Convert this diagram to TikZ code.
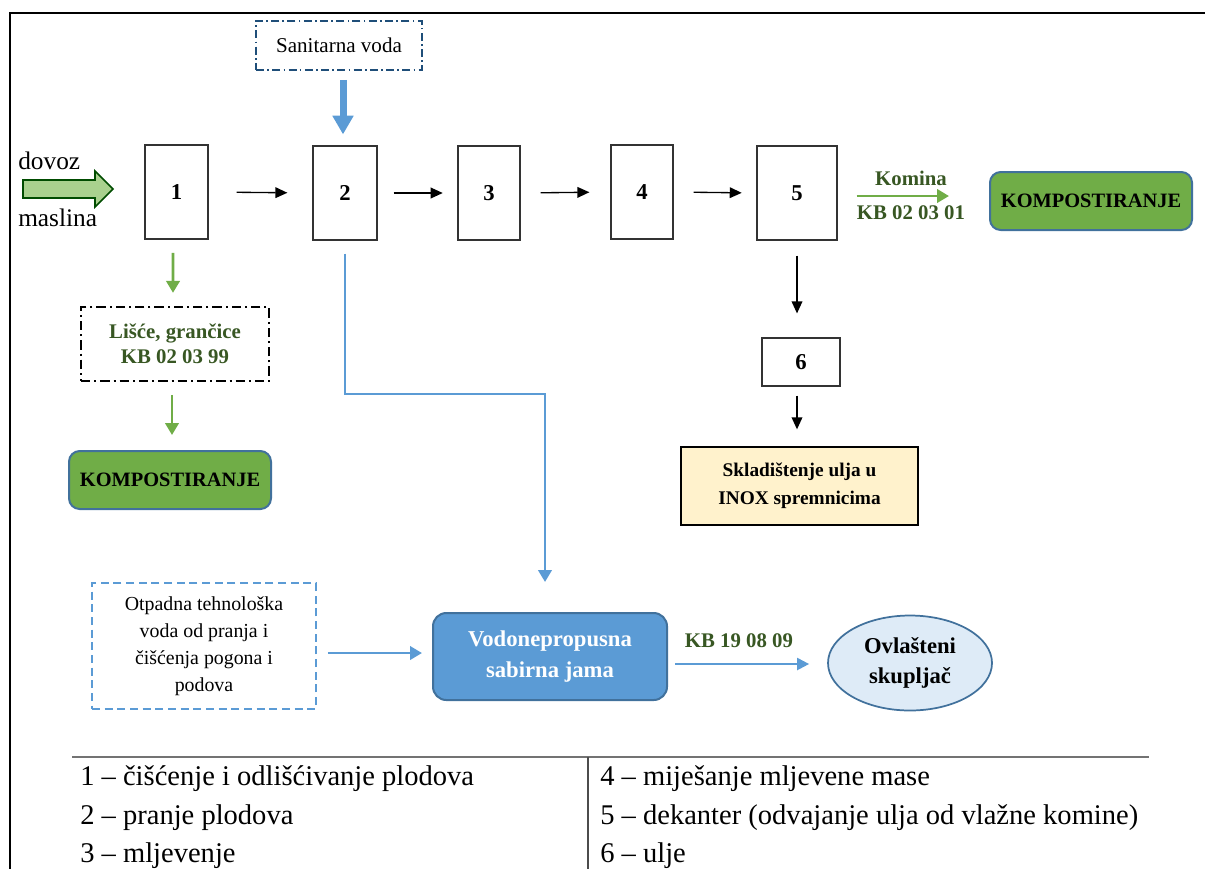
\documentclass[tikz,border=0pt]{standalone}
\usepackage{fontspec}
\setmainfont{LiberationSerif}[Extension=.ttf, UprightFont=*-Regular, BoldFont=*-Bold, ItalicFont=*-Italic, BoldItalicFont=*-BoldItalic]
\usetikzlibrary{arrows.meta,shapes.geometric}
\definecolor{mblue}{HTML}{5B9BD5}
\definecolor{bdblue}{HTML}{41719C}
\definecolor{dkblue}{HTML}{1F4E79}
\definecolor{mgreen}{HTML}{70AD47}
\definecolor{lgreen}{HTML}{A9D18E}
\definecolor{dgreen}{HTML}{385723}
\definecolor{lblue}{HTML}{DEEBF7}
\definecolor{cream}{HTML}{FFF2CC}
\tikzset{
  procbox/.style={draw=black!80, line width=0.9pt, minimum width=#1, minimum height=70.5pt, inner sep=0pt, font=\fontsize{17}{19}\selectfont\bfseries},
  blk/.style={draw=black, line width=1pt, -{Triangle[length=9pt,width=8pt]}},
  grn/.style={draw=mgreen, line width=2.2pt, -{Triangle[length=9pt,width=10pt]}},
  blu/.style={draw=mblue, line width=2.2pt, -{Triangle[length=9pt,width=10pt]}},
  rbox/.style={rounded corners=8pt, line width=1.5pt, draw=bdblue, minimum width=151.5pt, minimum height=43.5pt, inner sep=0pt},
  gtext/.style={text=dgreen, font=\fontsize{15.6}{19}\selectfont\bfseries},
}
\begin{document}
\begin{tikzpicture}[x=0.75pt,y=-0.75pt]
\useasboundingbox (0,0) rectangle (1205,869);
% frame
\draw[line width=2pt] (1205,13) -- (10,13) -- (10,869);

% process boxes
\node[procbox=47.25pt] (b1) at (176.5,192) {1};
\node[procbox=48pt] (b2) at (345,193) {2};
\node[procbox=46.5pt] (b3) at (489,193) {3};
\node[procbox=46.5pt] (b4) at (642,192) {4};
\node[procbox=60pt] (b5) at (797,193) {5};
\node[draw=black!80, line width=0.9pt, minimum width=58.5pt, minimum height=36pt, inner sep=0pt, font=\fontsize{17}{19}\selectfont\bfseries] (b6) at (801,362) {6};

\draw[blk, shorten <=21pt, shorten >=18.75pt] (b1.east) -- (b2.west);
\draw[blk, shorten <=12pt, shorten >=11pt] (b2.east) -- (b3.west);
\draw[blk, shorten <=15pt, shorten >=15.75pt] (b3.east) -- (b4.west);
\draw[blk, shorten <=15pt, shorten >=11pt] (b4.east) -- (b5.west);

% input arrow
\draw[draw=black!70!green, line width=1.2pt, fill=lgreen] (23,180) -- (95,180) -- (95,171) -- (113,189) -- (95,207) -- (95,198) -- (23,198) -- cycle;
\node[anchor=west, inner sep=0pt, font=\fontsize{19}{22}\selectfont] (dovoz) at (18,161) {dovoz};
\node[anchor=west, inner sep=0pt, font=\fontsize{19}{22}\selectfont] (maslina) at (18,218) {maslina};

% sanitarna voda
\node[draw=dkblue, line width=1.2pt, dash pattern=on 6pt off 2.5pt on 1.2pt off 2.5pt, minimum width=124.5pt, minimum height=36.75pt, inner sep=0pt, font=\fontsize{15.8}{19}\selectfont] (san) at (339,45.5) {Sanitarna voda};
\draw[draw=mblue, line width=5.25pt, -{Triangle[length=14pt,width=15pt]}, shorten <=6.75pt, shorten >=8.25pt] (san.south -| b2.north) ++(-2,0) -- ([xshift=-1.5pt]b2.north);

% lisce
\node[draw=black, line width=1.2pt, dash pattern=on 7pt off 3pt on 1.5pt off 3pt, minimum width=141pt, minimum height=55.5pt, inner sep=0pt, gtext, align=center] (lis) at (175,344) {Lišće, grančice\\KB 02 03 99};
\draw[grn, shorten <=10pt, shorten >=10pt] ([xshift=-2.6pt]b1.south) -- ([xshift=-1.5pt]lis.north);
\node[rbox, fill=mgreen, font=\fontsize{15.3}{18}\selectfont\bfseries] (komp1) at (170,480) {KOMPOSTIRANJE};
\draw[grn, shorten <=9.75pt, shorten >=11.25pt] ([xshift=-2.25pt]lis.south) -- ([xshift=1.5pt]komp1.north);

% komina
\node[rbox, fill=mgreen, font=\fontsize{15.3}{18}\selectfont\bfseries] (komp2) at (1091,201) {KOMPOSTIRANJE};
\draw[draw=mgreen, line width=2.2pt, -{Triangle[length=9pt,width=10pt]}, shorten <=14.25pt, shorten >=30pt] (b5.east |- 0,196) -- (komp2.west |- 0,196);
\node[gtext] (komina) at (911,178) {Komina};
\node[gtext] (kb1) at (911,213) {KB 02 03 01};

% oil
\node[draw=black, line width=1pt, fill=cream, minimum width=177.75pt, minimum height=58.5pt, inner sep=0pt, align=center, font=\fontsize{14.5}{21}\selectfont\bfseries] (stor) at (799.5,486) {Skladištenje ulja u\\INOX spremnicima};
\draw[blk, shorten <=11.25pt, shorten >=18pt] (b5.south) -- (b5.south |- b6.north);
\draw[blk, shorten <=6.75pt, shorten >=12.75pt] (b5.south |- b6.south) -- (b5.south |- stor.north);

% water collection
\node[rounded corners=10pt, draw=bdblue, line width=1.5pt, fill=mblue, minimum width=175.5pt, minimum height=65.25pt, inner sep=0pt, align=center, text=white, font=\fontsize{17}{23}\selectfont\bfseries] (vodo) at (550,656.5) {Vodonepropusna\\sabirna jama};
\coordinate (c1) at (345,394);
\coordinate (c2) at (545,394);
\draw[blu, rounded corners=0pt, shorten <=9.75pt, shorten >=22.5pt] (b2.south) -- (c1) -- (c2) -- (c2 |- vodo.north);

\node[draw=mblue, line width=1.2pt, dash pattern=on 6pt off 3.5pt, minimum width=168pt, minimum height=94.5pt, inner sep=0pt, align=center, font=\fontsize{14.9}{20.25}\selectfont] (otp) at (204,646) {Otpadna tehnološka\\voda od pranja i\\čišćenja pogona i\\podova};
\draw[blu, shorten <=8.25pt, shorten >=7.5pt] (otp.east |- 0,653) -- (vodo.west |- 0,653);

\node[ellipse, draw=bdblue, line width=1.3pt, fill=lblue, minimum width=123pt, minimum height=71.25pt, inner sep=0pt, align=center, font=\fontsize{17}{22.5}\selectfont\bfseries] (skup) at (910,663) {Ovlašteni\\skupljač};
\draw[draw=mblue, line width=1.6pt, -{Triangle[length=9pt,width=9pt]}, shorten <=5.25pt, shorten >=13.5pt] (vodo.east |- 0,664) -- (skup.west |- 0,664);
\node[gtext] (kb3) at (739,641) {KB 19 08 09};

% legend
\coordinate (l1) at (72,757);
\coordinate (l2) at (1149,757);
\coordinate (d1) at (588,757);
\coordinate (d2) at (588,869);
\draw[draw=black!55, line width=1.2pt] (l1) -- (l2);
\draw[draw=black!70, line width=0.8pt] (d1) -- (d2);
\begin{scope}[every node/.style={anchor=base west, inner sep=0pt, font=\fontsize{21.4}{26}\selectfont}]
\node (t1) at (80,785) {1 – čišćenje i odlišćivanje plodova};
\node (t2) at (80,824) {2 – pranje plodova};
\node (t3) at (80,862) {3 – mljevenje};
\node (t4) at (600,785) {4 – miješanje mljevene mase};
\node (t5) at (600,824) {5 – dekanter (odvajanje ulja od vlažne komine)};
\node (t6) at (600,862) {6 – ulje};
\end{scope}
\end{tikzpicture}
\end{document}
